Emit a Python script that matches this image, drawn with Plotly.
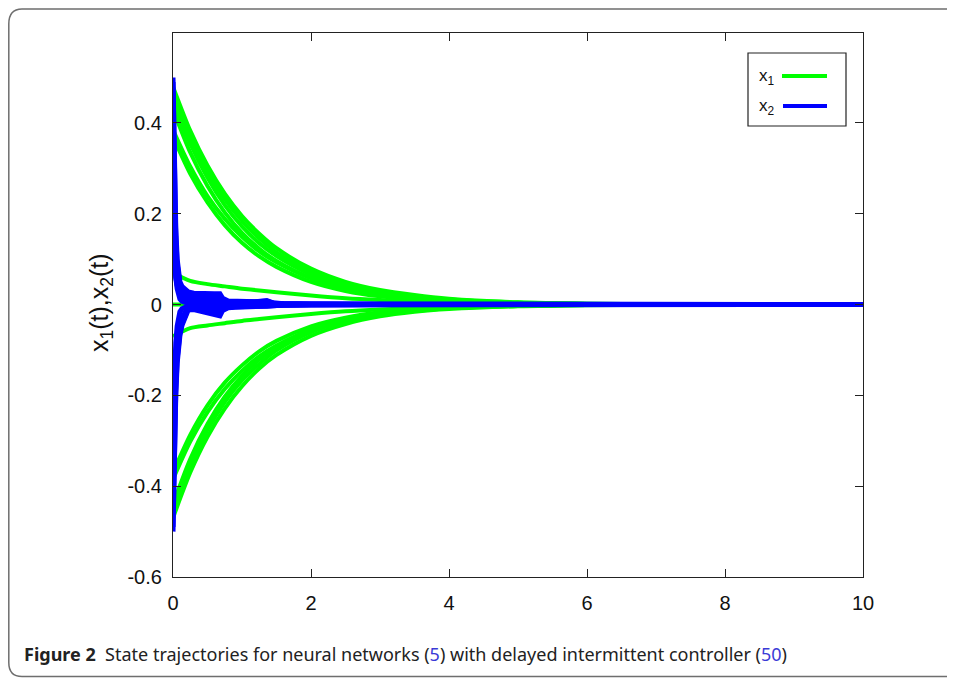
import plotly.graph_objects as go

# ---------------- data ----------------
T_G = [0, 0.25, 0.5, 0.75, 1, 1.25, 1.5, 2, 2.5, 3, 3.5, 4, 5, 6, 8, 10]

x1_A1 = [0.480, 0.383, 0.306, 0.244, 0.195, 0.156, 0.124, 0.079, 0.050, 0.032, 0.021, 0.013, 0.005, 0.002, 0.0003, 0]
x1_A2 = [0.465, 0.369, 0.292, 0.232, 0.184, 0.146, 0.115, 0.073, 0.046, 0.029, 0.018, 0.011, 0.0045, 0.0018, 0.0003, 0]
x1_A3 = [0.450, 0.354, 0.279, 0.219, 0.172, 0.135, 0.107, 0.066, 0.041, 0.025, 0.016, 0.0097, 0.0037, 0.0014, 0.0002, 0]
x1_A4 = [0.430, 0.335, 0.261, 0.203, 0.158, 0.123, 0.096, 0.058, 0.035, 0.021, 0.013, 0.0079, 0.0029, 0.0011, 0.0001, 0]
x1_B1 = [0.385, 0.304, 0.239, 0.189, 0.149, 0.117, 0.093, 0.058, 0.036, 0.022, 0.014, 0.0086, 0.0033, 0.0013, 0.0002, 0]
x1_B2 = [0.370, 0.288, 0.225, 0.175, 0.136, 0.106, 0.083, 0.050, 0.030, 0.018, 0.011, 0.0068, 0.0025, 0.0009, 0.0001, 0]
x1_C1 = [-0.470, -0.370, -0.291, -0.229, -0.180, -0.141, -0.111, -0.069, -0.043, -0.026, -0.016, -0.010, -0.0039, -0.0015, -0.0002, 0]
x1_C2 = [-0.455, -0.354, -0.276, -0.215, -0.167, -0.131, -0.101, -0.061, -0.037, -0.023, -0.014, -0.0082, -0.003, -0.0011, -0.0001, 0]
x1_C3 = [-0.440, -0.340, -0.263, -0.203, -0.157, -0.121, -0.094, -0.056, -0.033, -0.020, -0.012, -0.007, -0.0026, -0.0009, -0.0001, 0]
x1_D1 = [-0.385, -0.302, -0.237, -0.186, -0.146, -0.114, -0.090, -0.055, -0.034, -0.021, -0.013, -0.008, -0.003, -0.0012, -0.0002, 0]
x1_D2 = [-0.370, -0.287, -0.222, -0.172, -0.134, -0.103, -0.080, -0.048, -0.029, -0.017, -0.010, -0.0063, -0.0023, -0.0008, -0.0001, 0]
x1_E1 = [0.070, 0.052, 0.045, 0.040, 0.035, 0.031, 0.027, 0.020, 0.014, 0.010, 0.007, 0.005, 0.002, 0.0008, 0.0001, 0]
x1_E2 = [-0.070, -0.052, -0.046, -0.041, -0.036, -0.032, -0.028, -0.021, -0.015, -0.011, -0.008, -0.005, -0.002, -0.0008, -0.0001, 0]
x1_Z = [0, 0, 0, 0, 0, 0, 0, 0, 0, 0, 0, 0, 0, 0, 0, 0]

T_B = [0, 0.02, 0.04, 0.06, 0.08, 0.1, 0.13, 0.17, 0.22, 0.3, 0.4, 0.5, 0.6, 0.68,
       0.72, 0.8, 0.9, 1.0, 1.2, 1.36, 1.45, 1.6, 2.0, 3.0, 10]

x2_P1 = [0.50, 0.30, 0.17, 0.10, 0.068, 0.050, 0.040, 0.033, 0.028, 0.025, 0.024, 0.024, 0.024, 0.024,
         0.014, 0.008, 0.007, 0.006, 0.006, 0.009, 0.004, 0.002, 0.0005, 0, 0]
x2_P2 = [0.49, 0.28, 0.15, 0.09, 0.060, 0.045, 0.034, 0.026, 0.021, 0.019, 0.018, 0.018, 0.018, 0.019,
         0.010, 0.006, 0.005, 0.005, 0.005, 0.007, 0.003, 0.0015, 0.0004, 0, 0]
x2_P3 = [0.27, 0.16, 0.10, 0.065, 0.046, 0.035, 0.026, 0.019, 0.015, 0.013, 0.012, 0.012, 0.012, 0.013,
         0.007, 0.005, 0.004, 0.004, 0.004, 0.006, 0.003, 0.001, 0.0003, 0, 0]
x2_P4 = [0.14, 0.09, 0.060, 0.042, 0.030, 0.022, 0.016, 0.011, 0.008, 0.007, 0.006, 0.006, 0.006, 0.006,
         0.004, 0.003, 0.003, 0.003, 0.003, 0.004, 0.002, 0.001, 0.0002, 0, 0]
x2_M1 = [0.20, 0.11, 0.060, 0.035, 0.020, 0.012, 0.007, 0.004, 0.003, 0.002, 0.002, 0.002, 0.002, 0.002,
         0.001, 0.001, 0.001, 0.001, 0.001, 0.002, 0.001, 0.0005, 0.0001, 0, 0]
x2_M2 = [-0.27, -0.15, -0.085, -0.048, -0.028, -0.016, -0.009, -0.005, -0.003, -0.002, -0.002, -0.002, -0.003, -0.003,
         -0.002, -0.002, -0.002, -0.002, -0.002, -0.002, -0.001, -0.0005, -0.0001, 0, 0]
x2_N1 = [-0.50, -0.32, -0.20, -0.13, -0.090, -0.068, -0.046, -0.028, -0.012, -0.011, -0.014, -0.018, -0.021, -0.025,
         -0.013, -0.007, -0.006, -0.005, -0.005, -0.004, -0.003, -0.0015, -0.0004, 0, 0]
x2_N2 = [-0.49, -0.30, -0.19, -0.12, -0.083, -0.062, -0.042, -0.026, -0.010, -0.009, -0.011, -0.014, -0.016, -0.019,
         -0.010, -0.006, -0.005, -0.004, -0.004, -0.004, -0.002, -0.001, -0.0003, 0, 0]
x2_N3 = [-0.33, -0.22, -0.15, -0.10, -0.072, -0.055, -0.038, -0.024, -0.008, -0.007, -0.008, -0.010, -0.011, -0.013,
         -0.008, -0.005, -0.004, -0.004, -0.004, -0.003, -0.002, -0.001, -0.0003, 0, 0]
x2_N4 = [-0.20, -0.14, -0.10, -0.072, -0.055, -0.043, -0.030, -0.018, -0.006, -0.004, -0.005, -0.006, -0.006, -0.007,
         -0.005, -0.003, -0.003, -0.003, -0.003, -0.003, -0.002, -0.001, -0.0002, 0, 0]

x1_series = [x1_Z, x1_E1, x1_E2, x1_A1, x1_A2, x1_A3, x1_A4, x1_B1, x1_B2,
             x1_C1, x1_C2, x1_C3, x1_D1, x1_D2]
x2_series = [x2_P1, x2_P2, x2_P3, x2_P4, x2_M1, x2_M2, x2_N1, x2_N2, x2_N3, x2_N4]

x_ticks = [0, 2, 4, 6, 8, 10]
x_ticklabels = ["0", "2", "4", "6", "8", "10"]
y_ticks = [-0.6, -0.4, -0.2, 0, 0.2, 0.4]
y_ticklabels = ["-0.6", "-0.4", "-0.2", "0", "0.2", "0.4"]

caption = ("<b>Figure 2</b>  State trajectories for neural networks "
           "(<span style='color:#3a3ad6'>5</span>) with delayed intermittent controller "
           "(<span style='color:#3a3ad6'>50</span>)")

# ---------------- figure ----------------
GREEN = "#00ff00"
BLUE = "#0000ff"
OFF = 8                      # page body margin
W, H = 955 - OFF, 678 - OFF
L, R, T, B = 173, 863, 33, 577    # plot area in page pixels


def px(x):
    return (x - L) / (R - L)


def py(y):
    return (B - y) / (B - T)


fig = go.Figure()
for s in x1_series:
    fig.add_trace(go.Scatter(x=T_G, y=s, mode="lines", showlegend=False,
                             line=dict(color=GREEN, width=4, shape="spline", smoothing=0.8),
                             hoverinfo="skip"))
for s in x2_series:
    fig.add_trace(go.Scatter(x=T_B, y=s, mode="lines", showlegend=False,
                             line=dict(color=BLUE, width=5),
                             hoverinfo="skip"))

tick_font = dict(family="Liberation Sans, Arial, sans-serif", size=20, color="#111")
axis_common = dict(showline=True, linecolor="#222", linewidth=1.2, mirror="ticks",
                   ticks="inside", ticklen=8, tickcolor="#222", tickwidth=1,
                   showgrid=False, zeroline=False, tickfont=tick_font)

fig.update_layout(
    width=W, height=H,
    margin=dict(l=L - OFF, r=W - (R - OFF), t=T - OFF, b=H - (B - OFF)),
    paper_bgcolor="white", plot_bgcolor="white",
    xaxis=dict(range=[0, 10], tickvals=x_ticks, ticktext=x_ticklabels,
               ticklabelstandoff=8, **axis_common),
    yaxis=dict(range=[-0.6, 0.598], tickvals=y_ticks, ticktext=y_ticklabels,
               ticklabelstandoff=6, **axis_common),
    showlegend=False,
)

bottom = 676.5
shapes = []
# outer rounded frame (open at the right, running off the page)
path = (f"M {px(960)},{py(9)} L {px(22)},{py(9)} Q {px(8.8)},{py(9)} {px(8.8)},{py(24)} "
        f"L {px(8.8)},{py(bottom - 14)} Q {px(8.8)},{py(bottom)} {px(22)},{py(bottom)} "
        f"L {px(960)},{py(bottom)}")
shapes.append(dict(type="path", xref="paper", yref="paper", path=path,
                   line=dict(color="#6e6e6e", width=1.5)))
# legend box
shapes.append(dict(type="rect", xref="paper", yref="paper",
                   x0=px(748), x1=px(846), y0=py(126), y1=py(53),
                   line=dict(color="#222", width=1.2), fillcolor="white"))
shapes.append(dict(type="line", xref="paper", yref="paper",
                   x0=px(782), x1=px(827), y0=py(76), y1=py(76),
                   line=dict(color=GREEN, width=4)))
shapes.append(dict(type="line", xref="paper", yref="paper",
                   x0=px(783), x1=px(827), y0=py(106), y1=py(106),
                   line=dict(color=BLUE, width=4)))
fig.update_layout(shapes=shapes)

ann = []
lab_font = dict(family="Liberation Sans, Arial, sans-serif", size=17, color="#111")
ann.append(dict(xref="paper", yref="paper", x=px(757), y=py(77), xanchor="left", yanchor="middle",
                text="x<sub>1</sub>", showarrow=False, font=lab_font))
ann.append(dict(xref="paper", yref="paper", x=px(757), y=py(107), xanchor="left", yanchor="middle",
                text="x<sub>2</sub>", showarrow=False, font=lab_font))
ann.append(dict(xref="paper", yref="paper", x=px(101), y=py(303), xanchor="center", yanchor="middle",
                text="x<sub>1</sub>(t),x<sub>2</sub>(t)", textangle=-90, showarrow=False,
                font=dict(family="Liberation Sans, Arial, sans-serif", size=25, color="#111")))
ann.append(dict(xref="paper", yref="paper", x=px(22), y=py(654), xanchor="left", yanchor="middle",
                text=caption, showarrow=False,
                font=dict(family="Noto Sans, sans-serif", size=18, color="#222")))
fig.update_layout(annotations=ann)

fig.write_html(
    "out.html",
    post_script="document.documentElement.style.overflow='hidden';"
                "document.body.style.overflow='hidden';",
)
